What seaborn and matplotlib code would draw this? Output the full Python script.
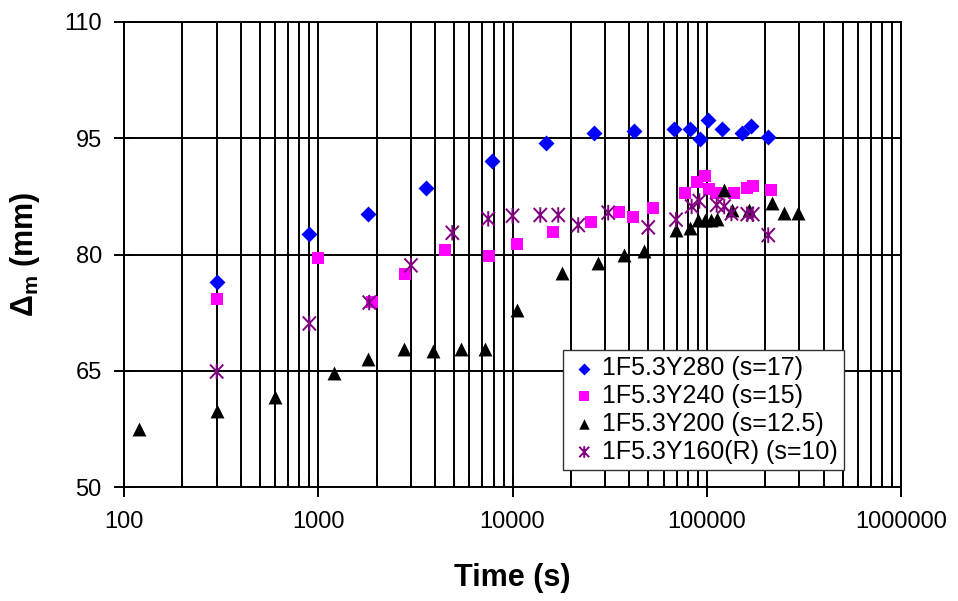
import matplotlib
matplotlib.use("Agg")
import matplotlib.pyplot as plt
import matplotlib.ticker as mticker
from matplotlib.path import Path
import numpy as np
import pandas as pd
import seaborn as sns

# ---- data ----
t280 = [300, 900, 1800, 3600, 7800, 14900, 26400, 42400, 67800, 82000, 92300,
        101500, 120000, 152000, 168000, 207000]
d280 = [76.5, 82.6, 85.2, 88.6, 92.1, 94.4, 95.7, 95.9, 96.2, 96.2, 94.9,
        97.4, 96.2, 95.7, 96.6, 95.2]

t240 = [300, 1000, 1900, 2800, 4500, 7600, 10500, 16200, 25400, 35500, 41700,
        52900, 77300, 89400, 97900, 103000, 111000, 138000, 162000, 174000, 215000]
d240 = [74.2, 79.5, 73.9, 77.5, 80.6, 79.8, 81.3, 82.9, 84.2, 85.5, 84.9,
        86.0, 88.0, 89.4, 90.1, 88.4, 88.0, 88.0, 88.6, 88.8, 88.3]

t200 = [120, 300, 600, 1200, 1800, 2750, 3900, 5460, 7200, 10600, 18000, 27600,
        37700, 47700, 69500, 82000, 90500, 97900, 104800, 113300, 123100, 134400,
        165600, 217500, 249900, 296000]
d200 = [57.5, 59.8, 61.6, 64.7, 66.5, 67.8, 67.5, 67.8, 67.8, 72.9, 77.6, 78.9,
        79.9, 80.4, 83.1, 83.4, 84.4, 84.4, 84.5, 84.6, 88.3, 85.8,
        85.7, 86.7, 85.3, 85.3]

t160 = [300, 900, 1830, 3000, 4900, 7500, 10000, 13900, 17200, 21800, 31100,
        50000, 69500, 83600, 91600, 112500, 123000, 134000, 161700, 172500, 207300]
d160 = [64.9, 71.1, 73.8, 78.6, 82.8, 84.6, 85.0, 85.1, 85.1, 83.8, 85.4,
        83.5, 84.5, 86.2, 86.9, 86.4, 86.2, 85.3, 85.2, 85.2, 82.5]

labels = ["1F5.3Y280 (s=17)", "1F5.3Y240 (s=15)", "1F5.3Y200 (s=12.5)",
          "1F5.3Y160(R) (s=10)"]
x_ticks = [100, 1000, 10000, 100000, 1000000]
x_ticklabels = ["100", "1000", "10000", "100000", "1000000"]
y_ticks = [50, 65, 80, 95, 110]

# ---- style ----
sns.set_style("white")
plt.rcParams["font.family"] = ["Liberation Sans", "DejaVu Sans"]
plt.rcParams["mathtext.fontset"] = "custom"
plt.rcParams["mathtext.rm"] = "Liberation Sans"
plt.rcParams["mathtext.bf"] = "Liberation Sans:bold"
for k in ["text.color", "axes.labelcolor", "xtick.color", "ytick.color"]:
    plt.rcParams[k] = "black"

# asterisk marker: vertical bar plus an X
ast = Path([(0, -1), (0, 1), (-0.85, -0.9), (0.85, 0.9), (-0.85, 0.9), (0.85, -0.9)],
           [Path.MOVETO, Path.LINETO, Path.MOVETO, Path.LINETO, Path.MOVETO, Path.LINETO])

fig = plt.figure(figsize=(9.58, 6.01), dpi=100)
ax = fig.add_axes([124 / 958, 1 - 487 / 601, (901 - 124) / 958, (487 - 22) / 601])

series = [
    (t280, d280, labels[0], "D", "#0000FF", 66, True),
    (t240, d240, labels[1], "s", "#FF00FF", 82, True),
    (t200, d200, labels[2], "^", "#000000", 100, True),
    (t160, d160, labels[3], ast, "#800080", 125, False),
]
for t, d, lab, mk, col, size, filled in series:
    df = pd.DataFrame({"t": t, "d": d})
    if filled:
        sns.scatterplot(data=df, x="t", y="d", ax=ax, marker=mk, color=col,
                        s=size, linewidth=0, edgecolor=col, label=lab, zorder=3)
    else:
        sns.scatterplot(data=df, x="t", y="d", ax=ax, marker=mk, color=col,
                        edgecolor=col, facecolor="none",
                        s=size, linewidth=1.4, label=lab, zorder=3)

ax.set_xscale("log")
ax.set_xlim(100, 1000000)
ax.set_ylim(50, 110)
ax.xaxis.set_major_locator(mticker.FixedLocator(x_ticks))
ax.xaxis.set_major_formatter(mticker.FixedFormatter(x_ticklabels))
ax.xaxis.set_minor_locator(mticker.LogLocator(base=10, subs=np.arange(2, 10)))
ax.xaxis.set_minor_formatter(mticker.NullFormatter())
ax.set_yticks(y_ticks)

ax.grid(True, axis="x", which="both", color="black", linewidth=1.4)
ax.grid(True, axis="y", which="major", color="black", linewidth=1.4)
ax.set_axisbelow(True)
for sp in ax.spines.values():
    sp.set_color("black")
    sp.set_linewidth(1.4)

ax.tick_params(axis="x", which="major", direction="inout", length=14, width=1.4,
               labelsize=17, pad=10, bottom=True)
ax.tick_params(axis="x", which="minor", direction="in", length=7, width=1.4,
               bottom=True)
ax.tick_params(axis="y", which="major", direction="inout", length=14, width=1.4,
               labelsize=17, pad=9, left=True)

ax.set_xlabel("Time (s)", fontsize=22, fontweight="bold", labelpad=22)
ax.set_ylabel(r"$\mathbf{\Delta_m}$ (mm)", fontsize=22, fontweight="bold", labelpad=16)

leg = ax.legend(loc="lower left", bbox_to_anchor=(0.565, 0.037), fontsize=18,
                frameon=True, fancybox=False, framealpha=1, edgecolor="#333333",
                markerscale=0.75, handletextpad=0.1, handlelength=1.2,
                labelspacing=0.15, borderpad=0.25, borderaxespad=0)
leg.get_frame().set_linewidth(1.0)

fig.savefig("out.png", dpi=100)
